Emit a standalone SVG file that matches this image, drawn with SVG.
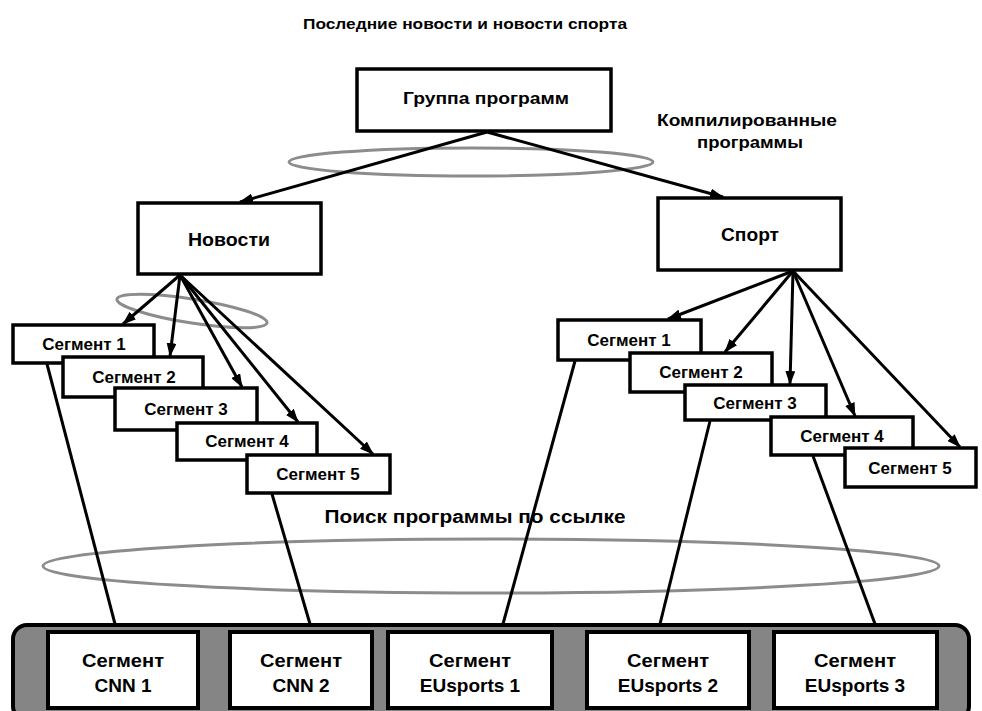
<svg xmlns="http://www.w3.org/2000/svg" width="982" height="711" viewBox="0 0 982 711">
<style>
  text { font-family: "Liberation Sans", Arial, sans-serif; font-weight: bold; fill: #000; text-anchor: middle; }
  .box { fill: #fff; stroke: #000; stroke-width: 3.5; }
  .seg { fill: #fff; stroke: #000; stroke-width: 3.5; }
  .bbox { fill: #fff; stroke: #000; stroke-width: 4; }
  .ell { fill: none; stroke: #8c8c8c; stroke-width: 3; }
  .arr { stroke: #000; stroke-width: 3; fill: none; marker-end: url(#ah); }
  .lnk { stroke: #000; stroke-width: 3; fill: none; }
  .t17 { font-size: 17px; }
  .t18 { font-size: 18px; }
  .t19 { font-size: 19px; }
</style>
<defs>
  <marker id="ah" markerUnits="userSpaceOnUse" markerWidth="14" markerHeight="10" refX="13" refY="5" orient="auto">
    <path d="M0,0 L14,5 L0,10 Z" fill="#000"/>
  </marker>
</defs>
<rect width="982" height="711" fill="#fff"/>

<text x="465" y="29" style="font-size:15px" textLength="324" lengthAdjust="spacingAndGlyphs">Последние новости и новости спорта</text>

<g id="ellipses">
  <ellipse class="ell" cx="471" cy="162" rx="182" ry="14"/>
  <ellipse class="ell" cx="192" cy="311" rx="76" ry="12" transform="rotate(9 192 311)"/>
  <ellipse class="ell" cx="491" cy="566" rx="448" ry="27"/>
</g>

<g id="label-compiled">
  <text x="747" y="126" class="t17" textLength="180" lengthAdjust="spacingAndGlyphs">Компилированные</text>
  <text x="750" y="148" class="t17" textLength="106" lengthAdjust="spacingAndGlyphs">программы</text>
</g>
<g id="label-search">
  <text x="475" y="523" class="t18" textLength="301" lengthAdjust="spacingAndGlyphs">Поиск программы по ссылке</text>
</g>

<g id="group">
  <rect class="box" x="357" y="69" width="254" height="62"/>
  <text x="486" y="104" class="t17" textLength="166" lengthAdjust="spacingAndGlyphs">Группа программ</text>
</g>
<g id="news">
  <rect class="box" x="138" y="203" width="183" height="71"/>
  <text x="229" y="246" class="t18" textLength="82" lengthAdjust="spacingAndGlyphs">Новости</text>
</g>
<g id="sport">
  <rect class="box" x="658" y="198" width="183" height="72"/>
  <text x="750" y="241" class="t18" textLength="58" lengthAdjust="spacingAndGlyphs">Спорт</text>
</g>

<g id="news-seg1"><rect class="seg" x="13" y="325" width="141" height="38"/><text x="84" y="350" class="t17">Сегмент 1</text></g>
<g id="news-seg2"><rect class="seg" x="63" y="357" width="140" height="40"/><text x="134" y="383" class="t17">Сегмент 2</text></g>
<g id="news-seg3"><rect class="seg" x="115" y="388" width="142" height="42"/><text x="186" y="415" class="t17">Сегмент 3</text></g>
<g id="news-seg4"><rect class="seg" x="177" y="423" width="140" height="37"/><text x="247" y="447" class="t17">Сегмент 4</text></g>
<g id="news-seg5"><rect class="seg" x="247" y="455" width="143" height="38"/><text x="318" y="480" class="t17">Сегмент 5</text></g>

<g id="sport-seg1"><rect class="seg" x="558" y="320" width="143" height="40"/><text x="629" y="346" class="t17">Сегмент 1</text></g>
<g id="sport-seg2"><rect class="seg" x="630" y="353" width="142" height="39"/><text x="701" y="378" class="t17">Сегмент 2</text></g>
<g id="sport-seg3"><rect class="seg" x="685" y="385" width="141" height="35"/><text x="755" y="409" class="t17">Сегмент 3</text></g>
<g id="sport-seg4"><rect class="seg" x="771" y="417" width="142" height="38"/><text x="842" y="442" class="t17">Сегмент 4</text></g>
<g id="sport-seg5"><rect class="seg" x="845" y="448" width="131" height="39"/><text x="910" y="474" class="t17">Сегмент 5</text></g>

<g id="container">
  <rect x="13" y="625" width="956" height="95" rx="14" ry="14" fill="#858585" stroke="#000" stroke-width="4"/>
</g>
<g id="cnn1"><rect class="bbox" x="48" y="632" width="150" height="76"/><text x="123" y="667" class="t19" textLength="82" lengthAdjust="spacingAndGlyphs">Сегмент</text><text x="123" y="692" class="t19">CNN 1</text></g>
<g id="cnn2"><rect class="bbox" x="230" y="632" width="142" height="76"/><text x="301" y="667" class="t19" textLength="82" lengthAdjust="spacingAndGlyphs">Сегмент</text><text x="301" y="692" class="t19">CNN 2</text></g>
<g id="eus1"><rect class="bbox" x="388" y="632" width="164" height="76"/><text x="470" y="667" class="t19" textLength="82" lengthAdjust="spacingAndGlyphs">Сегмент</text><text x="470" y="692" class="t19">EUsports 1</text></g>
<g id="eus2"><rect class="bbox" x="587" y="632" width="162" height="76"/><text x="668" y="667" class="t19" textLength="82" lengthAdjust="spacingAndGlyphs">Сегмент</text><text x="668" y="692" class="t19">EUsports 2</text></g>
<g id="eus3"><rect class="bbox" x="774" y="632" width="163" height="76"/><text x="855" y="667" class="t19" textLength="82" lengthAdjust="spacingAndGlyphs">Сегмент</text><text x="855" y="692" class="t19">EUsports 3</text></g>

<g id="connectors">
  <line class="arr" x1="487" y1="132" x2="240" y2="202"/>
  <line class="arr" x1="487" y1="132" x2="723" y2="197"/>
  <line class="arr" x1="180" y1="275" x2="123" y2="324"/>
  <line class="arr" x1="180" y1="275" x2="170" y2="356"/>
  <line class="arr" x1="180" y1="275" x2="242" y2="387"/>
  <line class="arr" x1="180" y1="275" x2="298" y2="422"/>
  <line class="arr" x1="180" y1="275" x2="373" y2="454"/>
  <line class="arr" x1="793" y1="271" x2="668" y2="319"/>
  <line class="arr" x1="793" y1="271" x2="725" y2="352"/>
  <line class="arr" x1="793" y1="271" x2="790" y2="384"/>
  <line class="arr" x1="793" y1="271" x2="855" y2="416"/>
  <line class="arr" x1="793" y1="271" x2="960" y2="447"/>
  <line class="lnk" x1="47" y1="364" x2="115" y2="624"/>
  <line class="lnk" x1="272" y1="494" x2="310" y2="624"/>
  <line class="lnk" x1="575" y1="361" x2="503" y2="624"/>
  <line class="lnk" x1="710" y1="421" x2="660" y2="624"/>
  <line class="lnk" x1="813" y1="456" x2="875" y2="624"/>
</g>
</svg>
